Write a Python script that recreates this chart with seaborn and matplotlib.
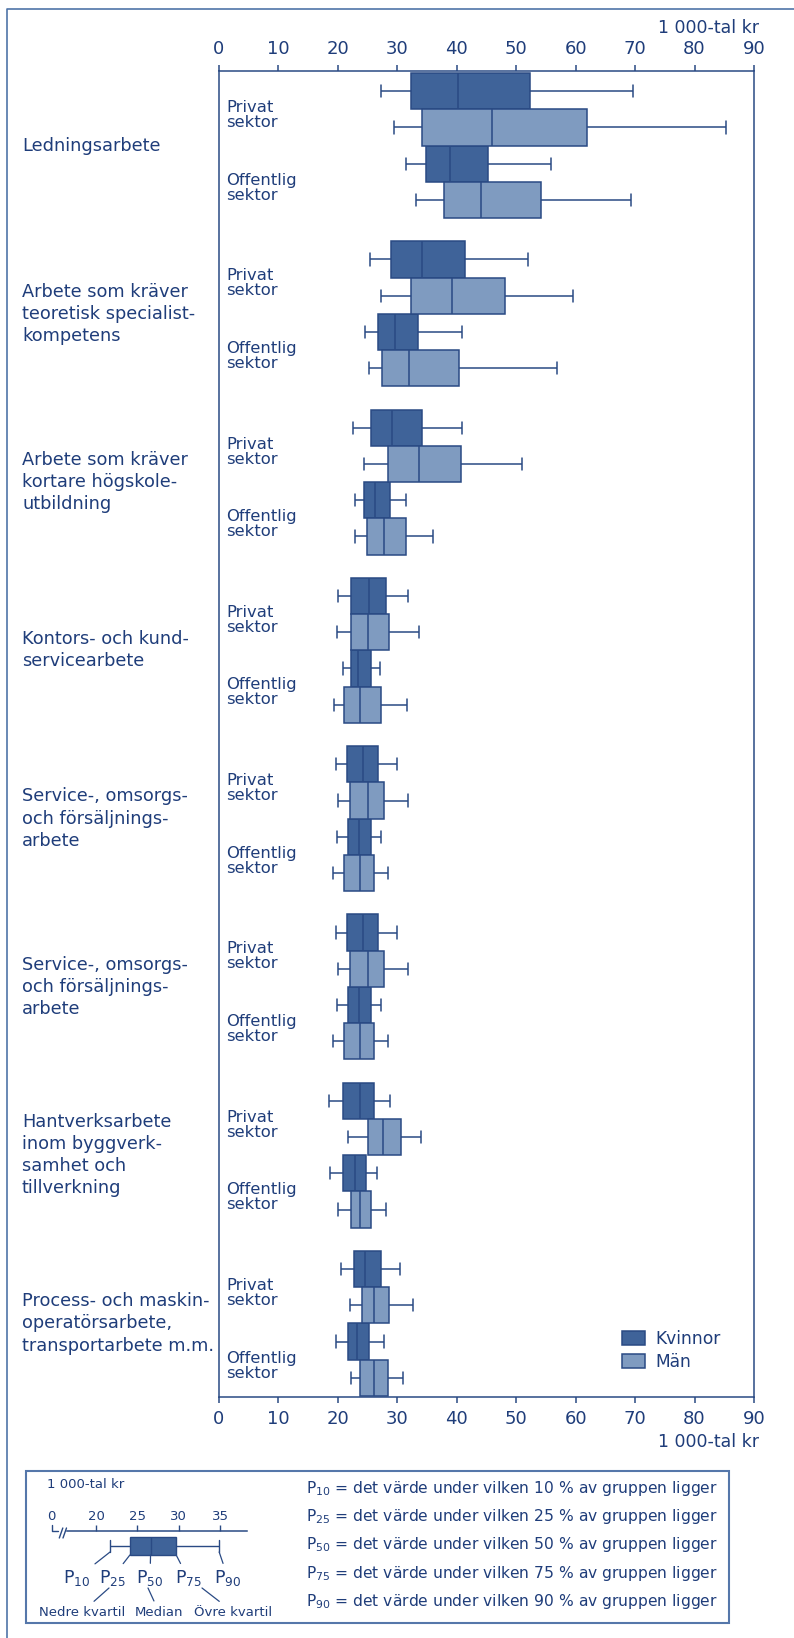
import numpy as np
import pandas as pd
import matplotlib
matplotlib.use("Agg")
import matplotlib.pyplot as plt
import seaborn as sns
from matplotlib.patches import Patch, Rectangle
from matplotlib.lines import Line2D
from matplotlib.transforms import blended_transform_factory

groups = [
    "Ledningsarbete",
    "Arbete som kräver\nteoretisk specialist-\nkompetens",
    "Arbete som kräver\nkortare högskole-\nutbildning",
    "Kontors- och kund-\nservicearbete",
    "Service-, omsorgs-\noch försäljnings-\narbete",
    "Service-, omsorgs-\noch försäljnings-\narbete",
    "Hantverksarbete\ninom byggverk-\nsamhet och\ntillverkning",
    "Process- och maskin-\noperatörsarbete,\ntransportarbete m.m.",
]
sectors = ["Privat\nsektor", "Offentlig\nsektor"]
genders = ["Kvinnor", "Män"]
percentiles = [10, 25, 50, 75, 90]

# P10, P25, P50, P75, P90 per group, 1 000-tal kr
kvinnor_privat = [
    (27.2, 32.3, 40.2, 52.4, 69.6),
    (25.4, 28.9, 34.1, 41.3, 51.9),
    (22.5, 25.5, 29.1, 34.1, 40.9),
    (20.1, 22.2, 25.2, 28.1, 31.8),
    (19.7, 21.5, 24.2, 26.7, 30.0),
    (19.7, 21.5, 24.2, 26.7, 30.0),
    (18.5, 20.9, 23.8, 26.1, 28.8),
    (20.6, 22.7, 24.6, 27.2, 30.5),
]
man_privat = [
    (29.5, 34.1, 46.0, 61.9, 85.3),
    (27.2, 32.3, 39.2, 48.1, 59.5),
    (24.4, 28.4, 33.6, 40.7, 51.0),
    (19.9, 22.2, 25.0, 28.6, 33.6),
    (20.1, 22.1, 25.0, 27.8, 31.8),
    (20.1, 22.1, 25.0, 27.8, 31.8),
    (21.7, 25.0, 27.6, 30.7, 33.9),
    (22.0, 24.1, 26.1, 28.6, 32.7),
]
kvinnor_offentlig = [
    (31.5, 34.9, 38.9, 45.3, 55.8),
    (24.6, 26.7, 29.6, 33.5, 40.9),
    (22.9, 24.4, 26.3, 28.8, 31.5),
    (20.9, 22.2, 23.4, 25.5, 27.1),
    (19.9, 21.7, 23.6, 25.5, 27.2),
    (19.9, 21.7, 23.6, 25.5, 27.2),
    (18.6, 20.9, 22.8, 24.7, 26.5),
    (19.6, 21.7, 23.2, 25.3, 27.8),
]
man_offentlig = [
    (33.2, 37.9, 44.0, 54.2, 69.3),
    (25.2, 27.5, 31.9, 40.4, 56.8),
    (22.8, 24.9, 27.8, 31.5, 36.0),
    (19.4, 21.1, 23.8, 27.2, 31.6),
    (19.1, 21.1, 23.8, 26.1, 28.4),
    (19.1, 21.1, 23.8, 26.1, 28.4),
    (20.1, 22.2, 23.7, 25.5, 28.1),
    (22.2, 23.8, 26.0, 28.4, 31.0),
]

# example box in the explanation panel
example_box = (21.7, 24.1, 26.6, 29.7, 34.9)
example_ticks = [20, 25, 30, 35]
xticks = list(range(0, 100, 10))

DARK = "#3f6399"
LIGHT = "#7f9bc0"
EDGE = "#2a4a84"
TEXT = "#1f3d7a"

W, H = 794, 1638


def fx(px):
    return px / W


def fy(py):
    return 1 - py / H


# 21 points: numpy percentiles 10/25/50/75/90 land exactly on the five values
REPS = [3, 3, 5, 5, 5]


def sample(q):
    return np.repeat(q, REPS)


GROUP_STEP = 2.32
series = {
    (0, "Kvinnor"): kvinnor_privat,
    (0, "Män"): man_privat,
    (1, "Kvinnor"): kvinnor_offentlig,
    (1, "Män"): man_offentlig,
}
rows = []
for g in range(len(groups)):
    for s in range(len(sectors)):
        for gender in genders:
            for v in sample(series[(s, gender)][g]):
                rows.append({"pos": g * GROUP_STEP + s, "kon": gender, "lon": v})
df = pd.DataFrame(rows)

sns.set_style("white")
plt.rcParams["font.family"] = ["DejaVu Sans"]
plt.rcParams["mathtext.default"] = "regular"

fig = plt.figure(figsize=(W / 100, H / 100), dpi=100)

# main chart
ax = fig.add_axes([fx(219), fy(1397), fx(754) - fx(219), fy(71) - fy(1397)])
sns.boxplot(data=df, x="lon", y="pos", hue="kon", hue_order=genders, orient="y",
            native_scale=True, whis=(10, 90), width=1, gap=0, dodge=True,
            showfliers=False, palette=[DARK, LIGHT], saturation=1,
            linecolor=EDGE, linewidth=1.1, legend=False, capwidths=0.17, ax=ax)

last = (len(groups) - 1) * GROUP_STEP + 1
ax.set_ylim(last + 0.5 + 1 / 72.5, -0.5 - 2 / 72.5)
ax.set_xlim(0, 90)
ax.set_xticks(xticks)
ax.set_yticks([])
ax.set_xlabel("")
ax.set_ylabel("")
ax.tick_params(axis="x", top=True, bottom=True, labeltop=True, labelbottom=True,
               direction="out", length=4, width=1.1, color=EDGE, pad=5,
               labelsize=13, labelcolor=TEXT)
for sp in ax.spines.values():
    sp.set_visible(True)
    sp.set_color(EDGE)
    sp.set_linewidth(1.1)

fig.text(fx(759), fy(28), "1 000-tal kr", ha="right", va="center", fontsize=12.5, color=TEXT)
fig.text(fx(759), fy(1442), "1 000-tal kr", ha="right", va="center", fontsize=12.5, color=TEXT)

# group and sector labels
trans = blended_transform_factory(fig.transFigure, ax.transData)
for g, label in enumerate(groups):
    centre = g * GROUP_STEP + 0.5
    fig.text(fx(22), centre, label, transform=trans, ha="left", va="center",
             fontsize=12.8, color=TEXT, linespacing=1.3)
    for s, sector in enumerate(sectors):
        fig.text(fx(226), g * GROUP_STEP + s + 0.08, sector, transform=trans,
                 ha="left", va="center", fontsize=11.8, color=TEXT, linespacing=1.0)

handles = [Patch(facecolor=DARK, edgecolor=EDGE, linewidth=1.1),
           Patch(facecolor=LIGHT, edgecolor=EDGE, linewidth=1.1)]
fig.legend(handles, genders, loc="upper left", bbox_to_anchor=(fx(622), fy(1330)),
           frameon=False, fontsize=12.3, handlelength=1.35, handleheight=0.9,
           handletextpad=0.6, labelspacing=0.3, borderpad=0, borderaxespad=0,
           labelcolor=TEXT)

# outer frame (left and top only visible)
fig.add_artist(Line2D([fx(6.5), fx(6.5), 1.0], [0.0, fy(9), fy(9)],
                      transform=fig.transFigure, color="#4f74a8", lw=1.2))

# explanation panel
fig.add_artist(Rectangle((fx(26), fy(1623)), fx(729) - fx(26), fy(1471) - fy(1623),
                         transform=fig.transFigure, fill=False, edgecolor="#5577aa", lw=1.5))
fig.text(fx(47), fy(1485), "1 000-tal kr", ha="left", va="center", fontsize=9.5, color=TEXT)

ax2 = fig.add_axes([fx(66.7), fy(1561), fx(246.7) - fx(66.7), fy(1531) - fy(1561)])
sns.boxplot(x=sample(example_box), orient="y", whis=(10, 90), width=0.6, color=DARK,
            saturation=1, linecolor=EDGE, linewidth=1.0, showfliers=False,
            capwidths=0.4, ax=ax2)
px_per_unit = (220 - 96) / 15
ax2.set_xlim(20 - (96 - 66.7) / px_per_unit, 35 + (246.7 - 220) / px_per_unit)
ax2.set_ylim(0.5, -0.5)
ax2.set_yticks([])
ax2.set_xticks(example_ticks)
ax2.set_xlabel("")
for name, sp in ax2.spines.items():
    sp.set_visible(name == "top")
    sp.set_color(EDGE)
    sp.set_linewidth(1.1)
ax2.tick_params(axis="x", top=True, bottom=False, labeltop=True, labelbottom=False,
                direction="out", length=4, width=1.0, color=EDGE, pad=1.5,
                labelsize=9.5, labelcolor=TEXT)
ax2.patch.set_alpha(0)

# axis break and the "0" label
fig.text(fx(51.7), fy(1517), "0", ha="center", va="center", fontsize=9.5, color=TEXT)
for xs, ys in [([51.7, 51.7, 57.7], [1525, 1531, 1531]),
               ([59.3, 62.8], [1538, 1528]),
               ([63.0, 66.5], [1538, 1528])]:
    fig.add_artist(Line2D([fx(x) for x in xs], [fy(y) for y in ys],
                          transform=fig.transFigure, color=EDGE, lw=1.0))

mini_trans = blended_transform_factory(ax2.transData, ax2.transAxes)
label_px = [77, 112, 150, 188, 228]
anchor_y = [0.3, 0.2, 0.2, 0.2, 0.3]
for p, v, lx, ay in zip(percentiles, example_box, label_px, anchor_y):
    ax2.annotate(f"P$_{{{p}}}$", xy=(v, ay), xycoords=mini_trans,
                 xytext=(lx, H - 1578), textcoords="figure pixels",
                 ha="center", va="center", fontsize=12.5, color=TEXT,
                 annotation_clip=False,
                 arrowprops=dict(arrowstyle="-", color=EDGE, lw=0.9, shrinkA=1, shrinkB=0))

for txt, tx, (axx, ayy) in [("Nedre kvartil", 82, (109, 1588)),
                            ("Median", 159, (148, 1588)),
                            ("Övre kvartil", 233, (202, 1588))]:
    ax2.annotate(txt, xy=(axx, H - ayy), xycoords="figure pixels",
                 xytext=(tx, H - 1612), textcoords="figure pixels",
                 ha="center", va="center", fontsize=9.5, color=TEXT,
                 annotation_clip=False,
                 arrowprops=dict(arrowstyle="-", color=EDGE, lw=0.9, shrinkA=1, shrinkB=0))

for i, p in enumerate(percentiles):
    fig.text(fx(306), fy(1488 + i * 28.4),
             f"P$_{{{p}}}$ = det värde under vilken {p} % av gruppen ligger",
             ha="left", va="center", fontsize=11.2, color=TEXT)

fig.savefig("out.png", dpi=100)
